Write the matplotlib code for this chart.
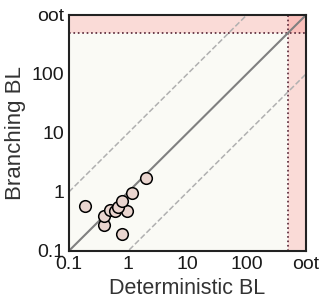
import matplotlib
matplotlib.use("Agg")
import matplotlib.pyplot as plt
import numpy as np

plt.rcParams['font.family'] = ['Liberation Sans', 'DejaVu Sans']

# deterministic vs branching values
det_bl = [0.19, 2.02, 1.16, 0.95, 0.78, 0.39, 0.39, 0.49, 0.59, 0.67, 0.80]
branch_bl = [0.58, 1.75, 0.95, 0.48, 0.19, 0.28, 0.39, 0.49, 0.47, 0.56, 0.69]

tick_vals = [0.1, 1, 10, 100, 1000]
tick_labels = ['0.1', '1', '10', '100', 'oot']
cutoff = 500
lo, hi = 0.1, 1000

fig = plt.figure(figsize=(3.28, 3.06), dpi=100)
ax = fig.add_axes([0.21, 0.18, 0.723, 0.771])
ax.set_facecolor('#fafaf5')

# out-of-time regions
ax.axvspan(cutoff, hi, color='#ff0000', alpha=0.12, lw=0)
ax.axhspan(cutoff, hi, color='#ff0000', alpha=0.12, lw=0)
ax.axvline(cutoff, color='#552233', ls=':', lw=1.2)
ax.axhline(cutoff, color='#552233', ls=':', lw=1.2)

# reference lines
line = np.array([lo, hi])
ax.plot(line, line, color='#808080', lw=1.5, zorder=2)
ax.plot(line, line * 10, color='#b0b0b0', lw=1.1, ls='--', zorder=2)
ax.plot(line, line / 10, color='#b0b0b0', lw=1.1, ls='--', zorder=2)

ax.scatter(det_bl, branch_bl, s=70, facecolor='#ead5cf', edgecolor='black', lw=1.1, zorder=3)

ax.set_xscale('log')
ax.set_yscale('log')
ax.set_xlim(lo, hi)
ax.set_ylim(lo, hi)
ax.set_xticks(tick_vals)
ax.set_xticklabels(tick_labels)
ax.set_yticks(tick_vals)
ax.set_yticklabels(tick_labels)
ax.minorticks_off()
ax.tick_params(length=0, labelsize=14, colors='#1a1a1a')
ax.tick_params(axis='x', pad=4)
ax.tick_params(axis='y', pad=3.5)

ax.set_xlabel('Deterministic BL', fontsize=15.5, color='#333333', labelpad=3)
ax.set_ylabel('Branching BL', fontsize=16, color='#333333', labelpad=4)

for s in ax.spines.values():
    s.set_linewidth(1.5)
    s.set_color('#222222')

fig.savefig('out.png', dpi=100)
